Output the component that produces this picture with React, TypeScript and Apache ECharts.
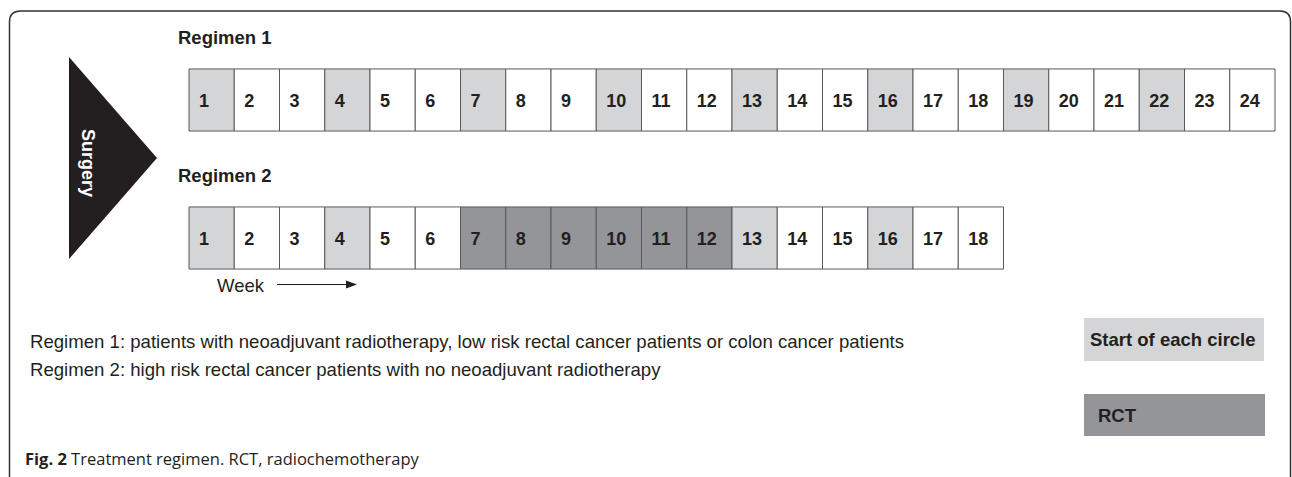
import React, { useEffect, useRef } from "react";
import * as echarts from "echarts";

// ---- data ----
const rowNames = ["Regimen 1", "Regimen 2"];
const weeksRegimen1 = [1, 2, 3, 4, 5, 6, 7, 8, 9, 10, 11, 12, 13, 14, 15, 16, 17, 18, 19, 20, 21, 22, 23, 24];
// 0 = plain week, 1 = start of each circle, 2 = RCT
const phaseRegimen1 = [1, 0, 0, 1, 0, 0, 1, 0, 0, 1, 0, 0, 1, 0, 0, 1, 0, 0, 1, 0, 0, 1, 0, 0];
const weeksRegimen2 = [1, 2, 3, 4, 5, 6, 7, 8, 9, 10, 11, 12, 13, 14, 15, 16, 17, 18];
const phaseRegimen2 = [1, 0, 0, 1, 0, 0, 2, 2, 2, 2, 2, 2, 1, 0, 0, 1, 0, 0];
const legendItems = ["Start of each circle", "RCT"];
const notes = [
  "Regimen 1: patients with neoadjuvant radiotherapy, low risk rectal cancer patients or colon cancer patients",
  "Regimen 2: high risk rectal cancer patients with no neoadjuvant radiotherapy",
];
const captionBold = "Fig. 2";
const captionText = " Treatment regimen. RCT, radiochemotherapy";

const FILLS = ["#ffffff", "#d4d5d7", "#939598"];
const INK = "#231f20";
const FONT = "'Liberation Sans', Arial, Helvetica, sans-serif";

let frameRegistered = false;
function registerFrame() {
  if (frameRegistered) return;
  const d = "M 9.5 477 L 9.5 22 Q 9.5 11 20.5 11 L 1280 11 Q 1290.5 11 1290.5 22 L 1290.5 477";
  echarts.graphic.registerShape("frame", (echarts.graphic as any).extendPath(d, {}));
  frameRegistered = true;
}

export default function App() {
  const ref = useRef<HTMLDivElement>(null);
  useEffect(() => {
    if (!ref.current) return;
    registerFrame();
    const chart = echarts.init(ref.current, undefined, { renderer: "svg" });

    const data: number[][] = [];
    weeksRegimen1.forEach((w, i) => data.push([w, 0, phaseRegimen1[i]]));
    weeksRegimen2.forEach((w, i) => data.push([w, 1, phaseRegimen2[i]]));

    const option: any = {
      animation: false,
      backgroundColor: "#ffffff",
      grid: { left: 189, width: 1086, top: 31, height: 276, containLabel: false },
      xAxis: { type: "value", min: 0, max: 24, show: false },
      yAxis: { type: "value", min: -0.5, max: 1.5, inverse: true, show: false },
      series: [
        {
          type: "custom",
          data,
          encode: { x: 0, y: 1 },
          renderItem: (params: any, api: any) => {
            const w = api.value(0);
            const r = api.value(1);
            const k = api.value(2);
            const p = api.coord([w - 1, r]);
            const s = api.size([1, 0.45]);
            return {
              type: "group",
              children: [
                {
                  type: "rect",
                  shape: { x: p[0], y: p[1] - s[1] / 2, width: s[0], height: s[1] },
                  style: { fill: FILLS[k], stroke: "#58595b", lineWidth: 1 },
                },
                {
                  type: "text",
                  x: p[0] + 10,
                  y: p[1] + 1,
                  style: {
                    text: String(w),
                    fill: INK,
                    font: `bold 18px ${FONT}`,
                    align: "left",
                    verticalAlign: "middle",
                  },
                },
              ],
            };
          },
        },
      ],
      graphic: [
        { type: "frame", x: 0, y: 0, style: { fill: "none", stroke: "#333333", lineWidth: 1.5 } },
        {
          type: "polygon",
          shape: { points: [[69, 57], [157, 158], [69, 259]] },
          style: { fill: "#231f20" },
        },
        {
          type: "text",
          x: 88,
          y: 163,
          rotation: -Math.PI / 2,
          style: {
            text: "Surgery",
            fill: "#ffffff",
            font: `bold 18px ${FONT}`,
            align: "center",
            verticalAlign: "middle",
          },
        },
        {
          type: "text",
          x: 178,
          y: 37,
          style: { text: rowNames[0], fill: INK, font: `bold 18.5px ${FONT}`, verticalAlign: "middle" },
        },
        {
          type: "text",
          x: 178,
          y: 175,
          style: { text: rowNames[1], fill: INK, font: `bold 18.5px ${FONT}`, verticalAlign: "middle" },
        },
        {
          type: "text",
          x: 217,
          y: 285,
          style: { text: "Week", fill: INK, font: `18.5px ${FONT}`, verticalAlign: "middle" },
        },
        {
          type: "line",
          shape: { x1: 277, y1: 284.5, x2: 350, y2: 284.5 },
          style: { stroke: INK, lineWidth: 1 },
        },
        {
          type: "polygon",
          shape: { points: [[346, 280.5], [357, 284.5], [346, 288.5]] },
          style: { fill: INK },
        },
        {
          type: "text",
          x: 30,
          y: 341,
          style: { text: notes[0], fill: INK, font: `18.6px ${FONT}`, verticalAlign: "middle" },
        },
        {
          type: "text",
          x: 30,
          y: 369,
          style: { text: notes[1], fill: INK, font: `18.6px ${FONT}`, verticalAlign: "middle" },
        },
        {
          type: "rect",
          shape: { x: 1084, y: 318, width: 180, height: 43 },
          style: { fill: FILLS[1] },
        },
        {
          type: "text",
          x: 1090,
          y: 339.5,
          style: { text: legendItems[0], fill: INK, font: `bold 18.5px ${FONT}`, verticalAlign: "middle" },
        },
        {
          type: "rect",
          shape: { x: 1084, y: 394, width: 181, height: 42 },
          style: { fill: FILLS[2] },
        },
        {
          type: "text",
          x: 1098,
          y: 415,
          style: { text: legendItems[1], fill: INK, font: `bold 18.5px ${FONT}`, verticalAlign: "middle" },
        },
        {
          type: "text",
          x: 25,
          y: 458,
          style: {
            text: `{b|${captionBold}}{r|${captionText}}`,
            verticalAlign: "middle",
            rich: {
              b: { font: `bold 16.5px 'Open Sans', sans-serif`, fill: INK },
              r: { font: `16.5px 'Open Sans', sans-serif`, fill: INK },
            },
          },
        },
      ],
    };
    chart.setOption(option);
    return () => chart.dispose();
  }, []);

  return (
    <div
      ref={ref}
      style={{ position: "absolute", left: 0, top: 0, width: 1292, height: 477 }}
    />
  );
}
